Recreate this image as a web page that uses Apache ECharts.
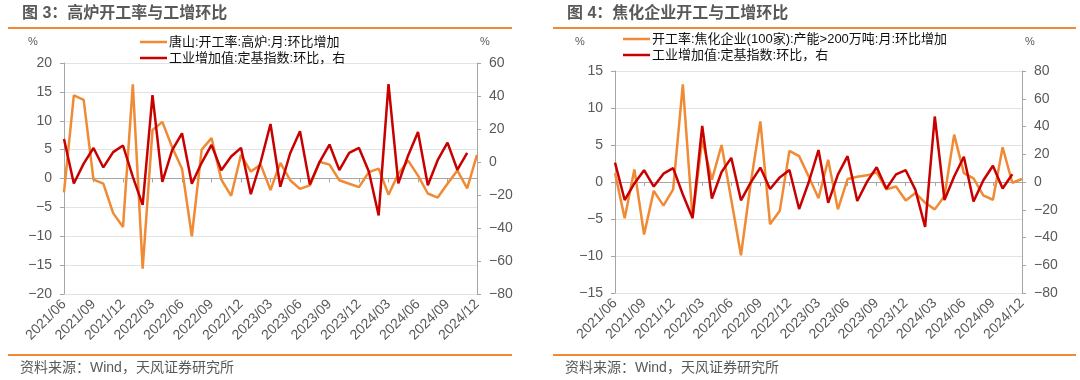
<!DOCTYPE html>
<html><head><meta charset="utf-8">
<script src="https://cdn.jsdelivr.net/npm/echarts@6/dist/echarts.min.js"></script>
<style>
html,body{margin:0;padding:0;background:#fff}
#wrap{display:flex;width:1080px;height:380px}
.c{width:540px;height:380px}
</style>
</head><body><div id="wrap"><div id="c1" class="c"></div><div id="c2" class="c"></div></div>
<script>
// ---- data ----
const categories = [
 '2021/06','2021/07','2021/08','2021/09','2021/10','2021/11','2021/12',
 '2022/01','2022/02','2022/03','2022/04','2022/05','2022/06','2022/07','2022/08','2022/09','2022/10','2022/11','2022/12',
 '2023/01','2023/02','2023/03','2023/04','2023/05','2023/06','2023/07','2023/08','2023/09','2023/10','2023/11','2023/12',
 '2024/01','2024/02','2024/03','2024/04','2024/05','2024/06','2024/07','2024/08','2024/09','2024/10','2024/11','2024/12'
];
// 唐山高炉开工率环比增加 (left axis, %)
const blastFurnaceMoM = [-2.4, 14.4, 13.6, -0.2, -0.9, -6.0, -8.4, 16.3, -15.6, 8.4, 9.8, 5.4, 1.7, -10.0, 5.0, 7.0, -0.2, -3.0, 4.1, 1.2, 2.4, -2.0, 2.7, -0.3, -1.8, -1.2, 2.9, 2.4, -0.3, -0.9, -1.5, 1.1, 1.7, -2.8, 0.8, 3.1, 0.5, -2.6, -3.3, -0.9, 1.4, -1.7, 4.1];
// 焦化企业开工率环比增加 (left axis, %)
const cokingMoM = [1.2, -4.9, 1.7, -7.1, -1.2, -3.2, -1.0, 13.2, -4.9, 5.7, 0.3, 5.0, -2.4, -9.9, -0.2, 8.2, -5.7, -3.9, 4.2, 3.5, 0.7, -2.2, 3.0, -3.7, 0.4, 0.7, 0.9, 1.3, -1.0, -0.6, -2.5, -1.5, -2.8, -3.7, -1.9, 6.4, 1.2, 0.5, -1.8, -2.4, 4.7, -0.1, 0.4];
// 工业增加值定基指数环比 (right axis, %)
const ivaMoM = [14, -13, -1, 8.5, -3.3, 6, 10, -9, -26, 40.5, -12, 7.2, 17.4, -13.2, -0.5, 10.4, -5, 3.3, 8.6, -19.5, 0, 23, -15, 5.3, 18.6, -13.7, 0.1, 10.6, -4.9, 5.5, 8.5, -5.7, -32.4, 47.2, -13, 4, 18.2, -14.1, 1.1, 11.7, -4.7, 5.6, null];

const ticks3L = [-20, -15, -10, -5, 0, 5, 10, 15, 20];
const ticks3R = [-80, -60, -40, -20, 0, 20, 40, 60];
const ticks4L = [-15, -10, -5, 0, 5, 10, 15];
const ticks4R = [-80, -60, -40, -20, 0, 20, 40, 60, 80];

const nameBF = '唐山:开工率:高炉:月:环比增加';
const nameCK = '开工率:焦化企业(100家):产能>200万吨:月:环比增加';
const nameIVA = '工业增加值:定基指数:环比，右';
const title3 = '图 3：高炉开工率与工增环比';
const title4 = '图 4：焦化企业开工与工增环比';
const sourceText = '资料来源：Wind，天风证券研究所';

// ---- style ----
const ORANGE = '#F08A35';
const RED = '#C80000';
const FONT = '"Liberation Sans", "Noto Sans CJK SC", sans-serif';
const LBL = '#595959';
const AXIS = '#A6A6A6';

function fmt(v){ return String(v).replace('-', '\u2212'); }

function yAxisCfg(ticks, pos, showSplit){
  return {
    type:'value', position:pos,
    min: ticks[0], max: ticks[ticks.length-1], interval: ticks[1]-ticks[0],
    axisLine:{show:true, onZero:false, lineStyle:{color:AXIS, width:1}},
    axisTick:{show:true, length:4, lineStyle:{color:AXIS}},
    axisLabel:{color:LBL, fontSize:14, fontFamily:FONT, margin:12, formatter:fmt},
    splitLine:{show:showSplit, lineStyle:{color:'#E3E3E3', width:1}}
  };
}

function makeOption(cfg){
  return {
    animation:false,
    backgroundColor:'#fff',
    textStyle:{fontFamily:FONT},
    grid:{left:cfg.grid.left, top:cfg.grid.top, width:cfg.grid.width, height:cfg.grid.height, containLabel:false},
    legend:{
      orient:'vertical', left:cfg.legendLeft, top:cfg.legendTop, padding:0,
      icon:'rect', itemWidth:27, itemHeight:2.5, itemGap:2,
      data:[cfg.orangeName, nameIVA],
      textStyle:{fontSize:13, lineHeight:14, color:'#111', fontFamily:FONT, padding:[0,0,0,-3]},
      selectedMode:false
    },
    xAxis:[
      {type:'category', data:categories, boundaryGap:false, position:'bottom',
       axisLine:{show:false, onZero:false}, axisTick:{show:false},
       axisLabel:{interval:2, rotate:45, color:LBL, fontSize:14, fontFamily:FONT, margin:8},
       splitLine:{show:false}},
      {type:'category', data:categories, boundaryGap:false, position:'bottom',
       axisLine:{show:true, onZero:true, onZeroAxisIndex:0, lineStyle:{color:AXIS, width:1}},
       axisTick:{show:true, interval:2, length:4, lineStyle:{color:AXIS}},
       axisLabel:{show:false}, splitLine:{show:false}}
    ],
    yAxis:[ yAxisCfg(cfg.ticksL,'left',true), yAxisCfg(cfg.ticksR,'right',false) ],
    series:[
      {name:cfg.orangeName, type:'line', data:cfg.orangeData, xAxisIndex:0, yAxisIndex:0,
       symbol:'none', lineStyle:{color:ORANGE, width:2.5}, itemStyle:{color:ORANGE}, z:2},
      {name:nameIVA, type:'line', data:ivaMoM, xAxisIndex:0, yAxisIndex:1,
       symbol:'none', lineStyle:{color:RED, width:2.5}, itemStyle:{color:RED}, z:3}
    ],
    graphic:[
      {type:'text', style:{text:cfg.title, x:cfg.titleX, y:14, fill:'#595959', font:'bold 16px '+FONT, textVerticalAlign:'middle'}},
      {type:'line', shape:{x1:cfg.lineX1, y1:28, x2:cfg.lineX2, y2:28}, style:{stroke:ORANGE, lineWidth:2}},
      {type:'text', style:{text:'%', x:cfg.pctL, y:42, fill:LBL, font:'11px '+FONT, textAlign:'center', textVerticalAlign:'middle'}},
      {type:'text', style:{text:'%', x:cfg.pctR, y:42, fill:LBL, font:'11px '+FONT, textAlign:'center', textVerticalAlign:'middle'}},
      {type:'line', shape:{x1:cfg.lineX1, y1:355, x2:cfg.lineX2, y2:355}, style:{stroke:ORANGE, lineWidth:2}},
      {type:'text', style:{text:sourceText, x:cfg.srcX, y:368, fill:LBL, font:'14px '+FONT, textVerticalAlign:'middle'}}
    ]
  };
}

const c1 = echarts.init(document.getElementById('c1'), null, {renderer:'canvas'});
c1.setOption(makeOption({
  grid:{left:64, top:63, width:413, height:231},
  legendLeft:140, legendTop:35,
  orangeName:nameBF, orangeData:blastFurnaceMoM,
  ticksL:ticks3L, ticksR:ticks3R,
  title:title3, titleX:22, lineX1:8, lineX2:512, pctL:33, pctR:485, srcX:20
}));
const c2 = echarts.init(document.getElementById('c2'), null, {renderer:'canvas'});
c2.setOption(makeOption({
  grid:{left:75, top:71, width:407, height:222},
  legendLeft:83, legendTop:32,
  orangeName:nameCK, orangeData:cokingMoM,
  ticksL:ticks4L, ticksR:ticks4R,
  title:title4, titleX:27, lineX1:13, lineX2:536, pctL:40, pctR:490, srcX:25
}));
</script>
</body></html>
